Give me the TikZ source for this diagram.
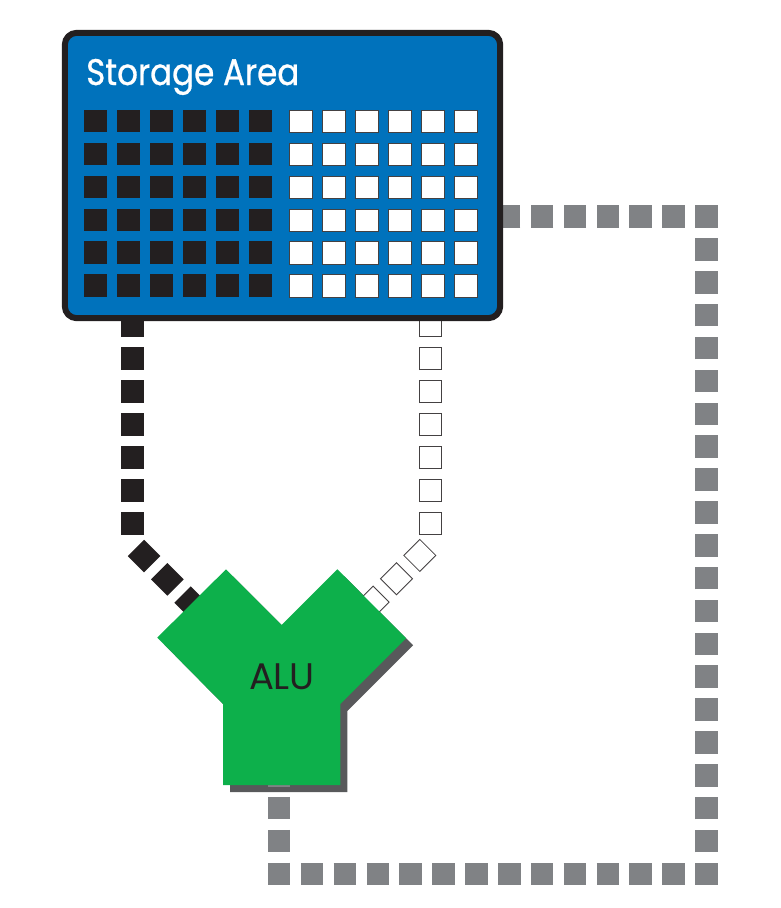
\documentclass[tikz,border=0pt]{standalone}
\usepackage{fontspec}
\setmainfont{Poppins}
\newfontfamily\labelfont{Poppins}[FakeBold=0.8]
\usetikzlibrary{calc}
\definecolor{storeblue}{HTML}{0072BC}
\definecolor{bitblack}{HTML}{231F20}
\definecolor{busgray}{HTML}{808285}
\definecolor{alugreen}{HTML}{0DB04B}
\definecolor{alushade}{HTML}{58595B}
\begin{document}
\begin{tikzpicture}[x=1pt,y=-1pt,
    bus/.style={line width=22.5pt,dash pattern=on 22.5pt off 10.36pt,dash phase=11.25pt,busgray},
    blackbus/.style={line width=23pt,dash pattern=on 23pt off 10pt,bitblack},
    whiteedge/.style={line width=23.5pt,dash pattern=on 23.5pt off 9.5pt,bitblack!85},
    whitefill/.style={line width=21.5pt,dash pattern=on 21.5pt off 11.5pt,dash phase=32pt,white}]
  \useasboundingbox (0,0) rectangle (780,908);

  \fill[alushade] (233,576.3) -- (288.7,632) -- (344.4,576.3) -- (413.1,645.3) -- (347.4,711) -- (347.4,792) -- (230,792) -- (230,711) -- (164.3,644.6) -- cycle;

  \node[minimum width=435pt,minimum height=285pt] (store) at (282.5,175.5) {};
  \node (alu) at (282,677) {};

  \coordinate (g0) at (279.2,742.5);
  \coordinate (g1) at (279.2,873.9);
  \coordinate (g2) at (706.38,873.9);
  \coordinate (g3) at (706.38,216.7);
  \draw[bus] (g0) -- (g1) -- (g2) -- (g3) -- (store.center |- g3);

  \coordinate (b0) at (132.7,534.8);
  \coordinate (b1) at (135.9,547.9);
  \draw[blackbus] (b0) -- (b0 |- store.center);
  \draw[blackbus] (b1) -- ++(90,90);

  \coordinate (w0) at (430.5,535.05);
  \coordinate (w1) at (428.1,547.1);
  \draw[whiteedge] (w0) -- (w0 |- store.center);
  \draw[whitefill] (w0) -- (w0 |- store.center);
  \draw[whiteedge] (w1) -- ++(-90,90);
  \draw[whitefill] (w1) -- ++(-90,90);

  \draw[line width=6pt,rounded corners=12pt,bitblack,fill=storeblue] (store.south west) rectangle (store.north east);
  \node[anchor=base west,inner xsep=0pt,text=white,font=\labelfont\fontsize{37}{40}\selectfont] (title) at (86,85) {\scalebox{0.88}[1]{Storage Area}};
  \foreach \i in {0,...,5} \foreach \j in {0,...,5} {
    \fill[bitblack] (84.3+33*\i,110+32.86*\j) rectangle ++(22.4,22.4);
    \draw[bitblack!85,line width=1pt,fill=white] (289.8+33*\i,110.5+32.86*\j) rectangle ++(22.4,22.4);
  }

  \fill[alugreen] (226,569.3) -- (281.7,625) -- (337.4,569.3) -- (406.1,638.3) -- (340.4,704) -- (340.4,785) -- (223,785) -- (223,704) -- (157.3,637.6) -- cycle;
  \node[text=bitblack,font=\fontsize{37}{40}\selectfont] at (alu) {ALU};
\end{tikzpicture}
\end{document}
